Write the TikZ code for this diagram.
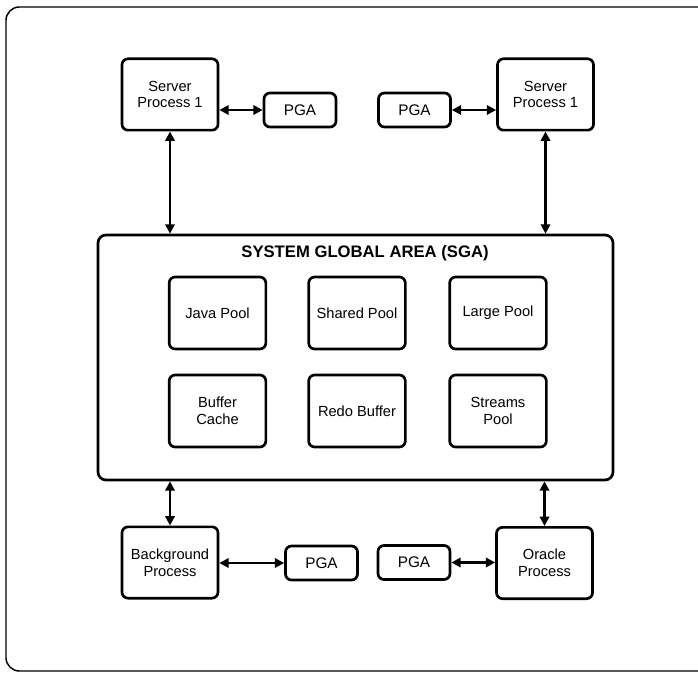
\documentclass[tikz,border=0pt]{standalone}
\usepackage{fontspec}
\setmainfont{Liberation Sans}
\usetikzlibrary{arrows.meta}
\begin{document}
\begin{tikzpicture}[x=0.75pt,y=-0.75pt,
  box/.style={draw, line width=2pt, rounded corners=4.5pt, align=center, inner sep=0pt, font=\fontsize{11}{12.5}\selectfont},
  proc/.style={box, minimum width=72pt, minimum height=53.5pt},
  pga/.style={box, minimum width=54pt, minimum height=25.5pt, font=\fontsize{11.5}{12.5}\selectfont},
  pool/.style={box, minimum width=72.5pt, minimum height=54pt},
  dbl/.style={line width=1.8pt, {Triangle[length=7pt,width=7pt]}-{Triangle[length=7pt,width=7pt]}}
]
\useasboundingbox (0,0) rectangle (698,673);
% outer frame
\draw[line width=1.1pt, rounded corners=10pt] (705,7) -- (6,7) -- (6,671) -- (705,671);
% top row
\node[proc] (sp1) at (170,94.5) {Server\\Process 1};
\node[pga] (pga1) at (300,110) {PGA};
\node[pga] (pga2) at (414.5,110) {PGA};
\node[proc] (sp2) at (545.5,94.5) {Server\\Process 1};
% SGA
\node[draw, line width=2pt, rounded corners=6pt, minimum width=386.25pt, minimum height=183.75pt, inner sep=0pt] (sga) at (355.5,357.5) {};
\node[font=\bfseries\fontsize{12.5}{14}\selectfont] (title) at (365,253) {SYSTEM GLOBAL AREA (SGA)};
\node[pool] (java) at (217.5,313) {Java Pool};
\node[pool] (shared) at (357,313) {Shared Pool};
\node[pool] (large) at (498,313) {Large Pool};
\node[pool] (buffer) at (217.5,411) {Buffer\\Cache};
\node[pool] (redo) at (357,411) {Redo Buffer};
\node[pool] (streams) at (498,411) {Streams\\Pool};
% bottom row
\node[proc] (bg) at (170,562.5) {Background\\Process};
\node[pga] (pga3) at (321.5,563) {PGA};
\node[pga] (pga4) at (414,562.5) {PGA};
\node[proc] (oracle) at (544.5,563) {Oracle\\Process};
% connectors
\draw[dbl] (pga1.west -| sp1.east) -- (pga1.west);
\draw[dbl] (pga2.east) -- (pga2.east -| sp2.west);
\draw[dbl] (sp1.south) -- (sp1.south |- sga.north);
\draw[dbl] (sp2.south) -- (sp2.south |- sga.north);
\draw[dbl] (bg.north |- sga.south) -- (bg.north);
\draw[dbl] (oracle.north |- sga.south) -- (oracle.north);
\draw[dbl] (bg.east |- pga3.west) -- (pga3.west);
\draw[dbl] (pga4.east) -- (pga4.east -| oracle.west);
\end{tikzpicture}
\end{document}
